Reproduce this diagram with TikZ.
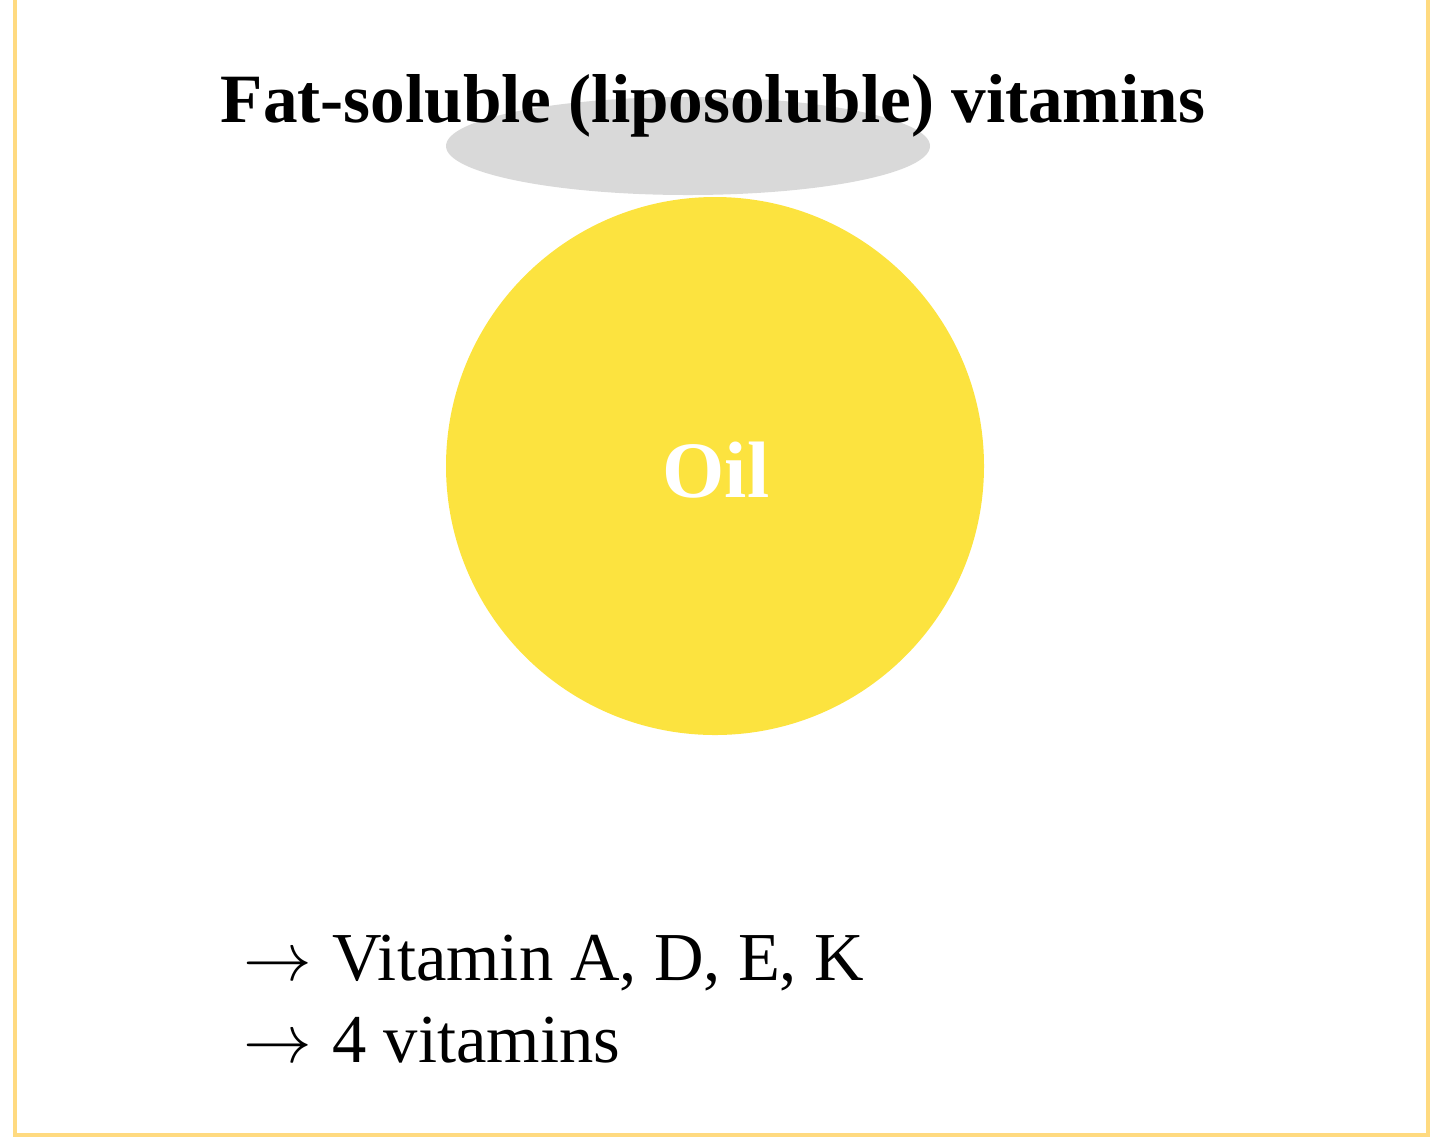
\documentclass[tikz,border=0pt]{standalone}
\usepackage{fix-cm}
\usepackage{fontspec}
\setmainfont{Liberation Serif}
\usetikzlibrary{shapes.geometric}
\definecolor{frameC}{HTML}{FFDA80}
\definecolor{capC}{HTML}{D9D9D9}
\definecolor{oilC}{HTML}{FCE33F}
\newcommand{\myarrow}{\mbox{$\rightarrow$}\hspace{0.3em}}
\tikzset{
  px/.style={x=0.5pt,y=-0.5pt},
  frame/.style={draw=frameC,line width=2pt},
  capsule/.style={ellipse,fill=capC,draw=none,minimum width=242pt,minimum height=49pt,inner sep=0pt},
  oil/.style={circle,fill=oilC,draw=none,minimum size=269pt,inner sep=0pt},
  titletext/.style={font=\fontsize{34.6pt}{40pt}\selectfont\bfseries,inner sep=0pt,anchor=base},
  oiltext/.style={font=\fontsize{40pt}{44pt}\selectfont\bfseries,text=white,inner sep=0pt,anchor=base},
  listtext/.style={font=\fontsize{34.3pt}{41pt}\selectfont,inner sep=0pt,anchor=base west}
}
\begin{document}
\begin{tikzpicture}[px]
\useasboundingbox (0,0) rectangle (1440,1137);
\draw[frame] (14.5,-20) rectangle (1427.5,1135);
\node[capsule] (cap) at (688,146) {};
\node[oil] (oilball) at (715,466) {};
\node[titletext] (title) at (713,122) {Fat-soluble (liposoluble) vitamins};
\node[oiltext] (oil) at (716,497) {Oil};
\node[listtext] (l1) at (243,980) {\myarrow Vitamin A, D, E, K};
\node[listtext] (l2) at (243,1062) {\myarrow 4 vitamins};
\end{tikzpicture}
\end{document}
